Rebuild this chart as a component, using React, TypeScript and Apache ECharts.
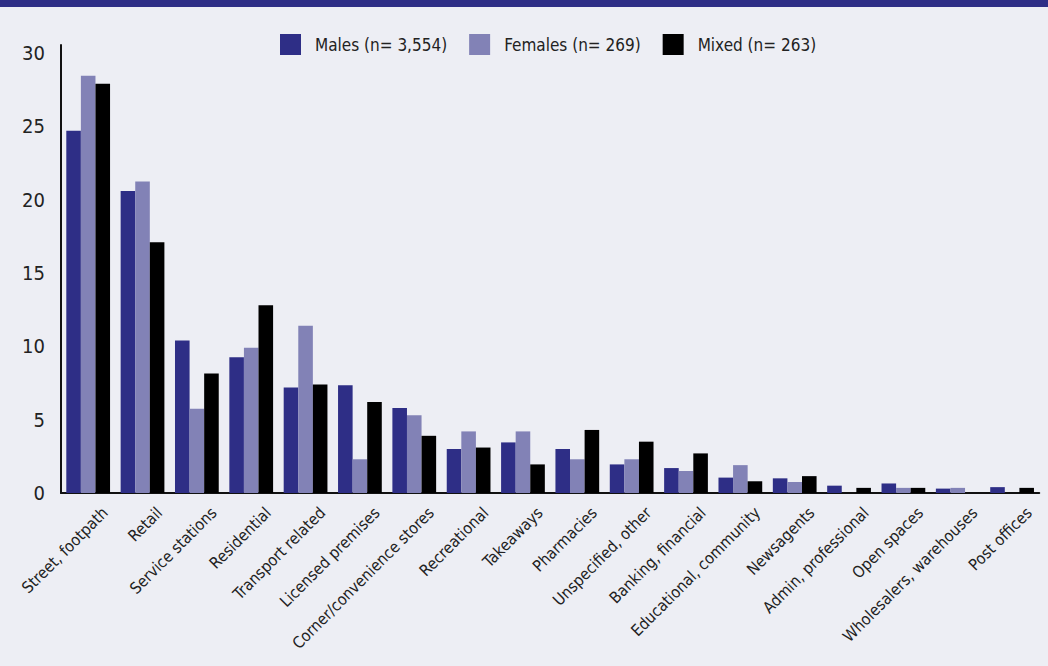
import React, { useEffect, useRef } from "react";
import * as echarts from "echarts";

const categories = [
  "Street, footpath",
  "Retail",
  "Service stations",
  "Residential",
  "Transport related",
  "Licensed premises",
  "Corner/convenience stores",
  "Recreational",
  "Takeaways",
  "Pharmacies",
  "Unspecified, other",
  "Banking, financial",
  "Educational, community",
  "Newsagents",
  "Admin, professional",
  "Open spaces",
  "Wholesalers, warehouses",
  "Post offices",
];

const males = [24.7, 20.6, 10.4, 9.25, 7.2, 7.35, 5.8, 3.0, 3.45, 3.0, 1.95, 1.7, 1.05, 1.0, 0.5, 0.65, 0.3, 0.4];
const females = [28.45, 21.25, 5.75, 9.9, 11.4, 2.3, 5.3, 4.2, 4.2, 2.3, 2.3, 1.5, 1.9, 0.75, 0, 0.35, 0.35, 0];
const mixed = [27.9, 17.1, 8.15, 12.8, 7.4, 6.2, 3.9, 3.1, 1.95, 4.3, 3.5, 2.7, 0.8, 1.15, 0.35, 0.35, 0, 0.35];

const seriesNames = ["Males (n= 3,554)", "Females (n= 269)", "Mixed (n= 263)"];
const colors = ["#2E2E86", "#8282B6", "#000000"];

const FONT = "'DejaVu Sans Condensed', 'Liberation Sans Narrow', 'Liberation Sans', sans-serif";

export default function App() {
  const ref = useRef<HTMLDivElement>(null);
  useEffect(() => {
    document.body.style.margin = "0";
    const chart = echarts.init(ref.current!, null, { renderer: "svg" });
    const data = [males, females, mixed];
    chart.setOption({
      animation: false,
      backgroundColor: "#EDEEF4",
      textStyle: { fontFamily: FONT },
      graphic: [
        {
          type: "rect",
          shape: { x: 0, y: 0, width: 1048, height: 7 },
          style: { fill: "#2E2E86" },
        },
      ],
      legend: {
        top: 29,
        left: 275,
        itemWidth: 21,
        itemHeight: 21,
        itemGap: 22,
        icon: "rect",
        textStyle: { fontSize: 17, color: "#222", fontFamily: FONT, padding: [0, 0, 0, 9] },
        data: seriesNames,
      },
      grid: { left: 61, right: 3, top: 45, bottom: 173, containLabel: false },
      xAxis: {
        type: "category",
        data: categories,
        axisLine: { lineStyle: { color: "#111", width: 2 } },
        axisTick: { show: false },
        axisLabel: {
          interval: 0,
          rotate: 45,
          margin: 0,
          fontSize: 16,
          color: "#222",
          fontFamily: FONT,
          verticalAlign: "top",
          lineHeight: 48,
        },
      },
      yAxis: {
        type: "value",
        min: 0,
        max: 30.55,
        interval: 5,
        axisLine: { show: true, lineStyle: { color: "#111", width: 2 } },
        axisTick: { show: false },
        splitLine: { show: false },
        axisLabel: {
          showMaxLabel: false,
          margin: 16,
          fontSize: 20,
          color: "#222",
          fontFamily: FONT,
        },
      },
      series: seriesNames.map((name, i) => ({
        name,
        type: "bar",
        data: data[i],
        barGap: "0%",
        barCategoryGap: "19.5%",
        itemStyle: { color: colors[i] },
      })),
    });
    return () => chart.dispose();
  }, []);
  return <div ref={ref} style={{ width: 1048, height: 666 }} />;
}
